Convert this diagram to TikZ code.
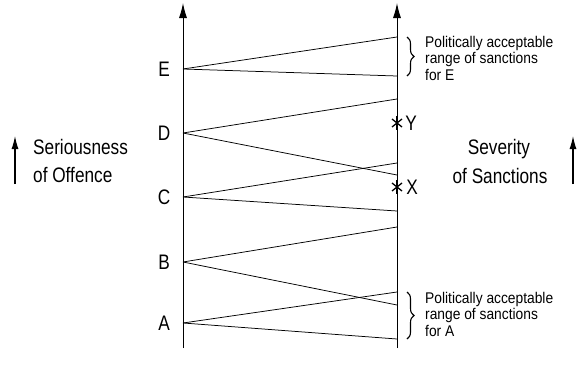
\documentclass[tikz,border=0pt]{standalone}
\usepackage{fontspec}
\setmainfont[FakeStretch=0.82]{Liberation Sans}
\newfontfamily\notefont[FakeStretch=0.89]{Liberation Sans}
\usetikzlibrary{arrows.meta,decorations.pathreplacing,calc}
\begin{document}
\begin{tikzpicture}[x=1pt,y=-1pt,
  axis/.style={line width=0.9pt,-{Latex[length=15pt,width=8pt]}},
  ray/.style={line width=0.75pt},
  big/.style={font=\fontsize{21}{24}\selectfont, inner sep=0pt},
  small/.style={font=\notefont\fontsize{15.5}{16.5}\selectfont, align=left, inner sep=0pt},
  brace/.style={decorate,decoration={brace,amplitude=7pt},line width=1.1pt},
  starline/.style={line width=1.3pt},
  sidearrow/.style={line width=1.1pt,-{Latex[length=13pt,width=7pt]}}]
\useasboundingbox (0,0) rectangle (579,370);
% axes
\coordinate (L0) at (183,348);
\coordinate (L1) at (183,3);
\coordinate (R0) at (397,348);
\coordinate (R1) at (397,3);
\draw[axis] (L0) -- (L1);
\draw[axis] (R0) -- (R1);
% points on the left axis
\coordinate (E) at (183,69);
\coordinate (D) at (183,133);
\coordinate (C) at (183,197);
\coordinate (B) at (183,262);
\coordinate (A) at (183,323);
% end points on the right axis
\coordinate (Eu) at (397,37);
\coordinate (El) at (397,76);
\coordinate (Du) at (397,99);
\coordinate (Dl) at (397,175);
\coordinate (Cu) at (397,163);
\coordinate (Cl) at (397,211);
\coordinate (Bu) at (397,227);
\coordinate (Bl) at (397,305);
\coordinate (Au) at (397,292);
\coordinate (Al) at (397,339);
\foreach \p in {E,D,C,B,A}{
  \draw[ray] (\p) -- (\p u);
  \draw[ray] (\p) -- (\p l);
}
% labels
\node[big] (lE) at (164,69) {E};
\node[big] (lD) at (164,133) {D};
\node[big] (lC) at (164,197) {C};
\node[big] (lB) at (164,262) {B};
\node[big] (lA) at (164,323) {A};
% stars
\coordinate (Ys) at (397,123);
\coordinate (Xs) at (397,187);
\foreach \s in {Ys,Xs}{
  \draw[starline] ($(\s)+(0,-7)$) -- ($(\s)+(0,7)$);
  \draw[starline] ($(\s)+(-5,-4)$) -- ($(\s)+(5,4)$);
  \draw[starline] ($(\s)+(-5,4)$) -- ($(\s)+(5,-4)$);
}
\node[big] (lY) at (411,123) {Y};
\node[big] (lX) at (412,187) {X};
% braces
\coordinate (bE1) at (407,37);
\coordinate (bE2) at (407,76);
\coordinate (bA1) at (407,292);
\coordinate (bA2) at (407,339);
\draw[brace] (bE1) -- (bE2);
\draw[brace] (bA1) -- (bA2);
\node[small,anchor=west] (tE) at (425,58) {Politically acceptable\\range of sanctions\\for E};
\node[small,anchor=west] (tA) at (425,314) {Politically acceptable\\range of sanctions\\for A};
% axis titles
\node[big,anchor=base west] (s1) at (33,154) {Seriousness};
\node[big,anchor=base west] (s2) at (33,182) {of Offence};
\coordinate (sa0) at (15,184);
\coordinate (sa1) at (15,136);
\draw[sidearrow] (sa0) -- (sa1);
\node[big,anchor=base] (v1) at (499,154) {Severity};
\node[big,anchor=base] (v2) at (500,183) {of Sanctions};
\coordinate (va0) at (573,184);
\coordinate (va1) at (573,136);
\draw[sidearrow] (va0) -- (va1);
\end{tikzpicture}
\end{document}
